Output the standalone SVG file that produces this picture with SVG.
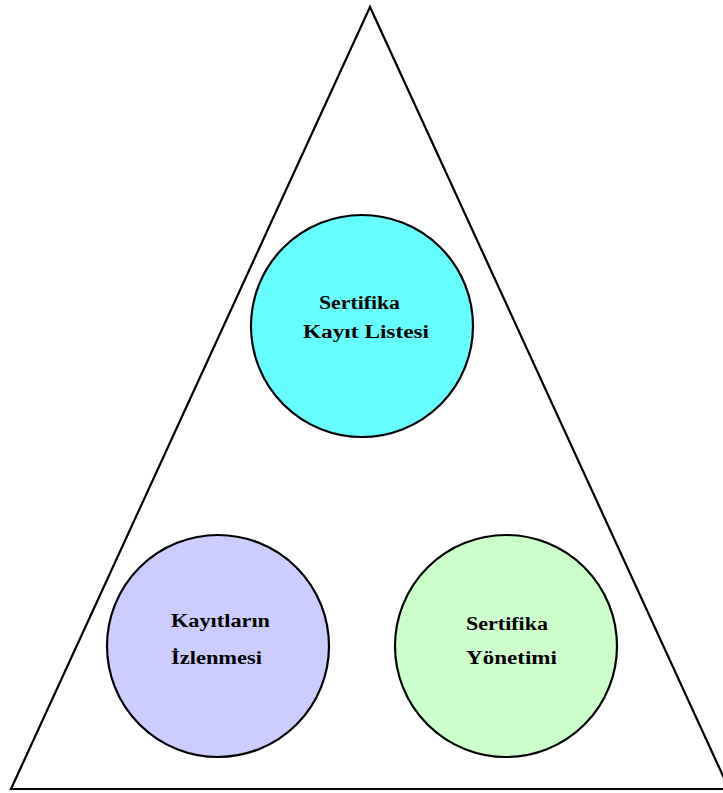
<svg xmlns="http://www.w3.org/2000/svg" width="723" height="793" viewBox="0 0 723 793">
  <style>
    .frame { fill: none; stroke: #000; stroke-width: 2.2; stroke-linejoin: miter; }
    .node { stroke: #000; stroke-width: 2.2; }
    .label { font-family: "Liberation Serif", "DejaVu Serif", serif; font-weight: bold; font-size: 18px; fill: #000; }
  </style>
  <rect width="723" height="793" fill="#fff"/>
  <!-- enclosing triangle -->
  <polygon class="frame" points="370,7 11,789 729,789"/>
  <g id="connectors"/>
  <g id="registry">
    <circle class="node" cx="362" cy="326" r="111" fill="#66FFFF"/>
    <text class="label" x="319" y="309" textLength="81" lengthAdjust="spacingAndGlyphs">Sertifika</text>
    <text class="label" x="303" y="338" textLength="126" lengthAdjust="spacingAndGlyphs">Kayıt Listesi</text>
  </g>
  <g id="monitoring">
    <circle class="node" cx="218" cy="646" r="111" fill="#CCCCFF"/>
    <text class="label" x="171" y="627" textLength="99" lengthAdjust="spacingAndGlyphs">Kayıtların</text>
    <text class="label" x="171" y="664" textLength="91" lengthAdjust="spacingAndGlyphs">İzlenmesi</text>
  </g>
  <g id="management">
    <circle class="node" cx="506" cy="646" r="111" fill="#CCFFCC"/>
    <text class="label" x="466" y="630" textLength="82" lengthAdjust="spacingAndGlyphs">Sertifika</text>
    <text class="label" x="466" y="664" textLength="91" lengthAdjust="spacingAndGlyphs">Yönetimi</text>
  </g>
</svg>
